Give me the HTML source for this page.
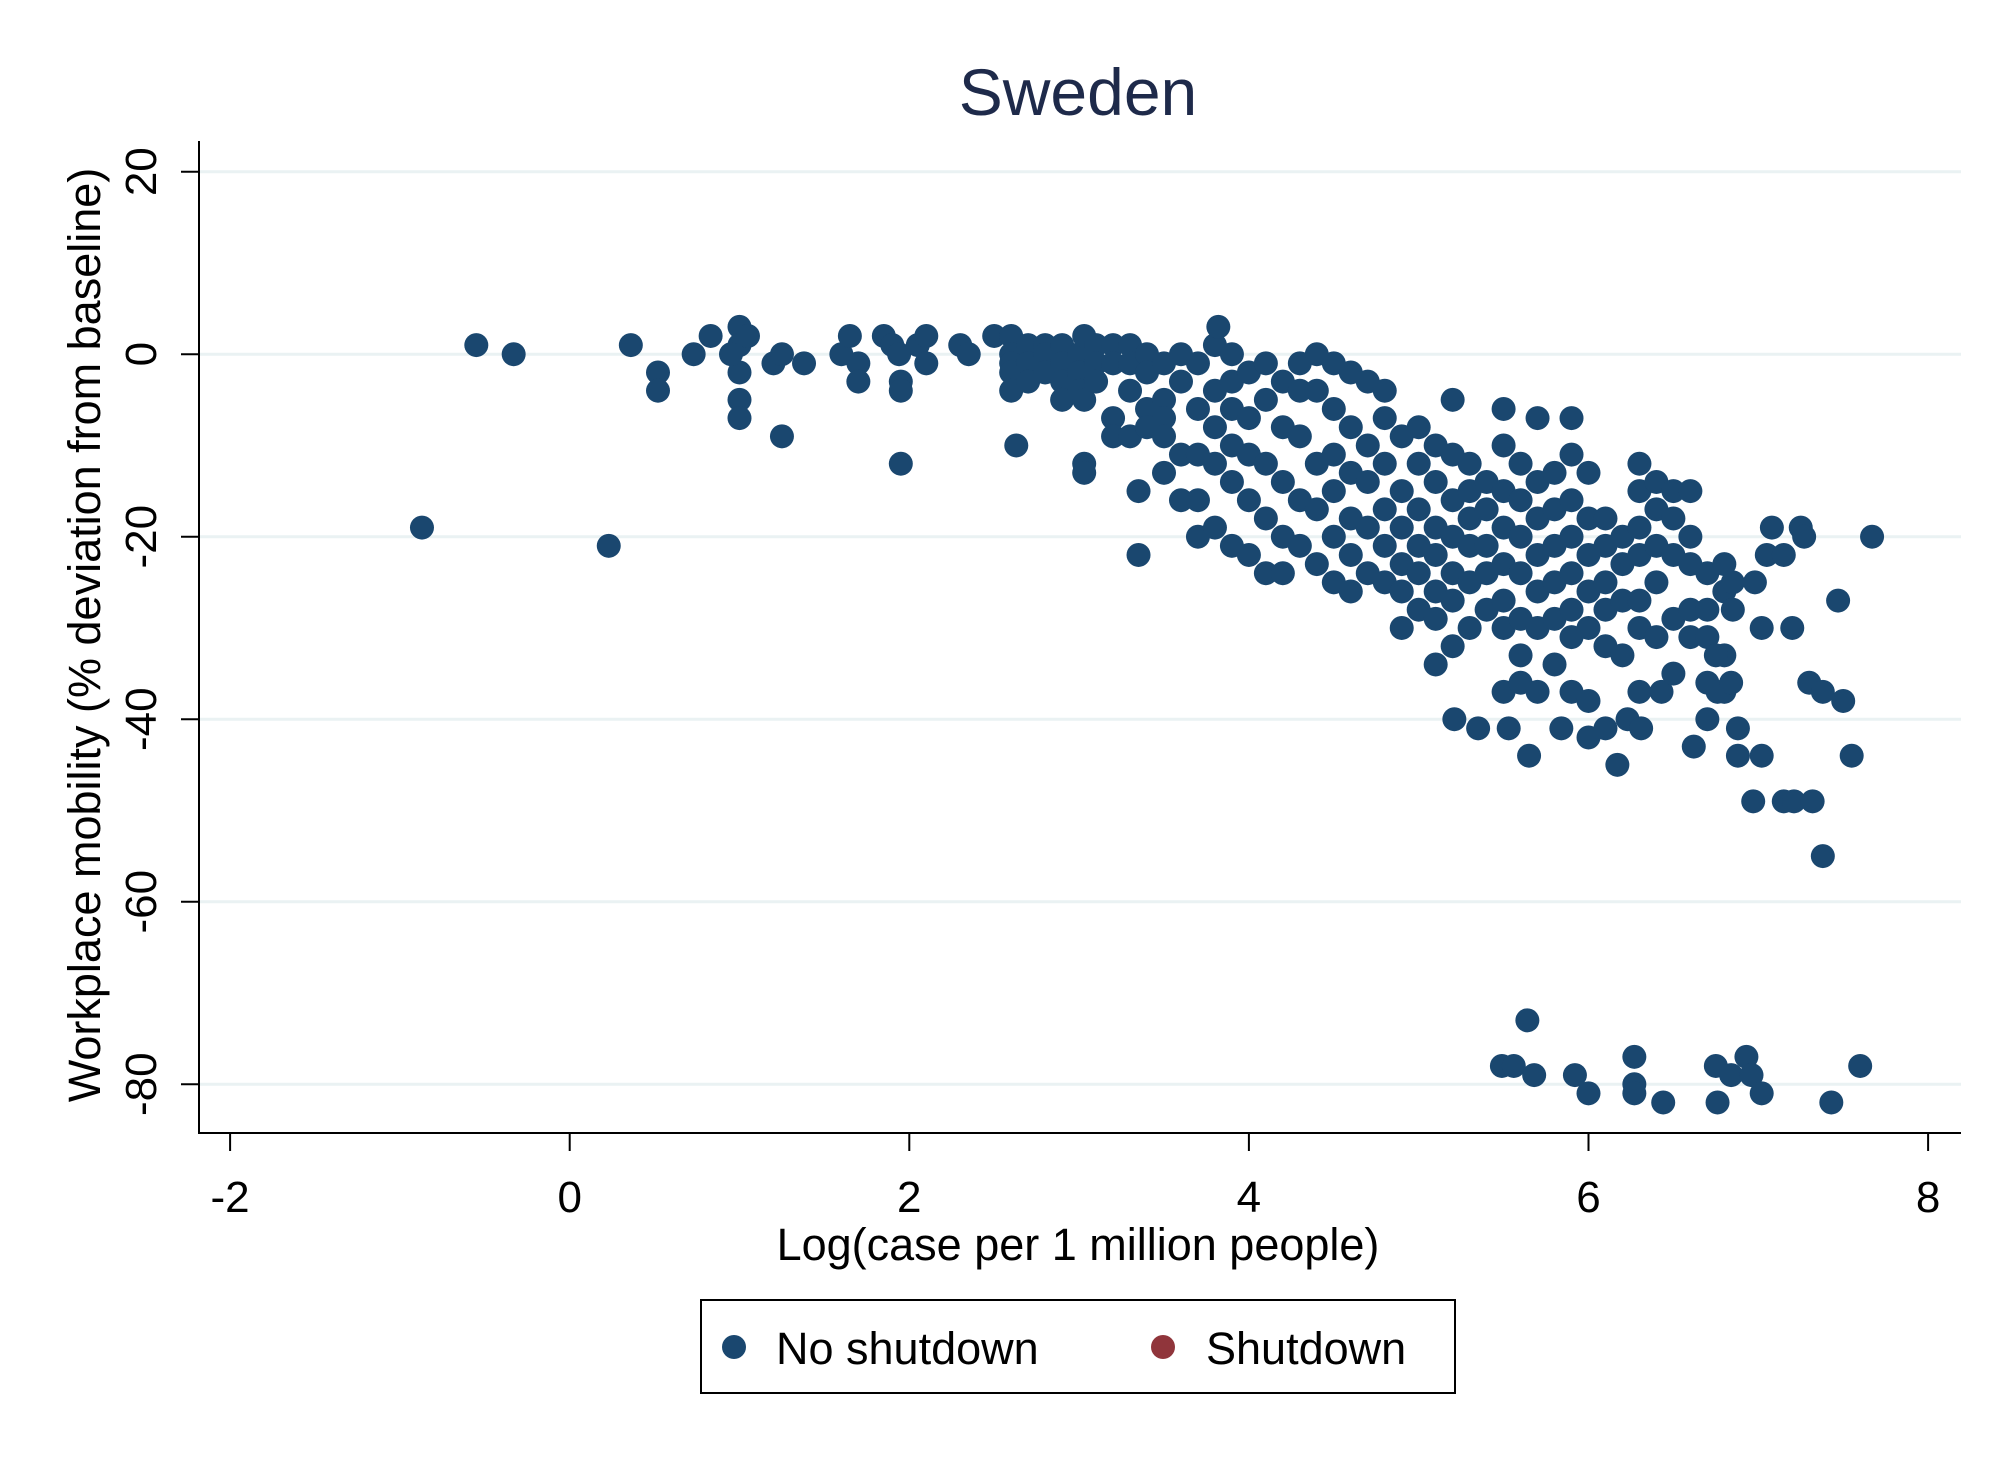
<!DOCTYPE html>
<html><head><meta charset="utf-8">
<style>
html,body{margin:0;padding:0;background:#fff;}
svg{display:block;font-family:"Liberation Sans",sans-serif;}
</style></head>
<body>
<svg id="chart" width="2012" height="1463" viewBox="0 0 2012 1463">
  <rect x="0" y="0" width="2012" height="1463" fill="#fff"/>
  <text x="1078" y="115" font-size="66" text-anchor="middle" fill="#1e2a4a">Sweden</text>
  <g id="grid"></g>
  <g id="axes"></g>
  <g id="points"></g>
  <text x="1078" y="1260" font-size="45" text-anchor="middle" fill="#000">Log(case per 1 million people)</text>
  <text transform="translate(100,635) rotate(-90)" font-size="45" text-anchor="middle" fill="#000">Workplace mobility (% deviation from baseline)</text>
  <g>
    <rect x="701" y="1300" width="754" height="93" fill="#fff" stroke="#000" stroke-width="2"/>
    <circle cx="734" cy="1347" r="12" fill="#1a476f"/>
    <text x="776" y="1364" font-size="45" fill="#000">No shutdown</text>
    <circle cx="1163" cy="1347" r="12" fill="#90353b"/>
    <text x="1206" y="1364" font-size="45" fill="#000">Shutdown</text>
  </g>
</svg>
<script>
const xTicks = [-2, 0, 2, 4, 6, 8];
const yTicks = [20, 0, -20, -40, -60, -80];
const xTickLabels = ["-2", "0", "2", "4", "6", "8"];
const yTickLabels = ["20", "0", "-20", "-40", "-60", "-80"];
const noShutdownX = [
-0.87,-0.55,-0.33,0.23,0.36,0.52,0.52,0.73,0.83,1.0,1.0,1.0,1.0,1.0,0.95,1.05,1.2,1.25,1.25,1.38,
1.6,1.65,1.7,1.7,1.85,1.9,1.95,1.95,1.95,1.94,2.05,2.1,2.1,2.3,2.35,2.5,2.63,
2.6,2.6,2.6,2.6,2.6,2.7,2.7,2.7,2.8,2.8,2.8,2.9,2.9,2.9,2.9,3.0,3.0,3.0,3.03,3.03,3.03,3.03,3.1,3.1,3.1,
3.2,3.2,3.2,3.2,3.3,3.3,3.3,3.3,3.35,3.35,3.4,3.4,3.4,3.4,3.5,3.5,3.5,3.5,3.5,3.6,3.6,3.6,3.6,
3.7,3.7,3.7,3.7,3.7,3.8,3.82,3.8,3.8,3.8,3.8,3.9,3.9,3.9,3.9,3.9,3.9,4.0,4.0,4.0,4.0,4.0,
4.1,4.1,4.1,4.1,4.1,4.2,4.2,4.2,4.2,4.2,4.3,4.3,4.3,4.3,4.3,4.4,4.4,4.4,4.4,4.4,
4.5,4.5,4.5,4.5,4.5,4.5,4.6,4.6,4.6,4.6,4.6,4.6,4.7,4.7,4.7,4.7,4.7,4.8,4.8,4.8,4.8,4.8,4.8,
4.9,4.9,4.9,4.9,4.9,4.9,5.0,5.0,5.0,5.0,5.0,5.0,5.1,5.1,5.1,5.1,5.1,5.1,5.1,
5.2,5.2,5.2,5.2,5.2,5.2,5.2,5.21,5.3,5.3,5.3,5.3,5.3,5.3,5.4,5.4,5.4,5.4,5.4,5.35,
5.5,5.5,5.5,5.5,5.5,5.5,5.5,5.5,5.6,5.6,5.6,5.6,5.6,5.6,5.6,5.53,5.7,5.7,5.7,5.7,5.7,5.7,5.7,5.65,
5.8,5.8,5.8,5.8,5.8,5.8,5.9,5.9,5.9,5.9,5.9,5.9,5.9,5.9,5.84,6.0,6.0,6.0,6.0,6.0,6.0,6.0,
6.1,6.1,6.1,6.1,6.1,6.1,6.2,6.2,6.2,6.2,6.17,6.3,6.3,6.3,6.3,6.3,6.3,6.3,6.23,6.31,
6.4,6.4,6.4,6.4,6.4,6.43,6.5,6.5,6.5,6.5,6.5,6.6,6.6,6.6,6.6,6.6,6.62,6.7,6.7,6.7,6.7,6.7,
6.8,6.8,6.8,6.8,6.76,6.84,6.85,6.85,6.88,6.88,7.02,6.75,
7.67,7.47,7.5,7.55,7.38,7.3,7.38,7.15,7.21,7.32,6.97,7.02,7.2,7.08,7.25,7.27,6.98,7.05,7.15,
5.64,5.49,5.56,5.68,5.92,6.0,6.27,6.27,6.27,6.44,6.75,6.76,6.84,6.93,6.96,7.02,7.43,7.6];
const noShutdownY = [
-19,1,0,-21,1,-2,-4,0,2,3,1,-2,-5,-7,0,2,-1,0,-9,-1,
0,2,-1,-3,2,1,-3,-4,-12,0,1,2,-1,1,0,2,-10,
2,0,-1,-2,-4,1,-1,-3,1,0,-2,1,-1,-3,-5,0,-2,-4,2,-5,-12,-13,1,-1,-3,
1,-1,-7,-9,1,-1,-4,-9,-15,-22,0,-2,-6,-8,-1,-5,-7,-9,-13,0,-3,-11,-16,
-1,-6,-11,-16,-20,1,3,-4,-8,-12,-19,0,-3,-6,-10,-14,-21,-2,-7,-11,-16,-22,
-1,-5,-12,-18,-24,-3,-8,-14,-20,-24,-1,-4,-9,-16,-21,0,-4,-12,-17,-23,
-1,-6,-11,-15,-20,-25,-2,-8,-13,-18,-22,-26,-3,-10,-14,-19,-24,-4,-7,-12,-17,-21,-25,
-9,-15,-19,-23,-26,-30,-8,-12,-17,-21,-24,-28,-10,-14,-19,-22,-26,-29,-34,
-5,-11,-16,-20,-24,-27,-32,-40,-12,-15,-18,-21,-25,-30,-14,-17,-21,-24,-28,-41,
-6,-10,-15,-19,-23,-27,-30,-37,-12,-16,-20,-24,-29,-33,-36,-41,-7,-14,-18,-22,-26,-30,-37,-44,
-13,-17,-21,-25,-29,-34,-7,-11,-16,-20,-24,-28,-31,-37,-41,-13,-18,-22,-26,-30,-38,-42,
-18,-21,-25,-28,-32,-41,-20,-23,-27,-33,-45,-12,-15,-19,-22,-27,-30,-37,-40,-41,
-14,-17,-21,-25,-31,-37,-15,-18,-22,-29,-35,-15,-20,-23,-28,-31,-43,-24,-28,-31,-36,-40,
-23,-26,-33,-37,-37,-36,-25,-28,-41,-44,-44,-33,
-20,-27,-38,-44,-55,-36,-37,-49,-49,-49,-49,-30,-30,-19,-19,-20,-25,-22,-22,
-73,-78,-78,-79,-79,-81,-77,-80,-81,-82,-78,-82,-79,-77,-79,-81,-82,-78];
const shutdownX = [];
const shutdownY = [];

const NS = "http://www.w3.org/2000/svg";
const L = 199, R = 1961, T = 141, B = 1133;
const X0 = 569.7, XU = 169.8, Y0 = 354.2, YU = 9.125;
function sx(v){ return X0 + v * XU; }
function sy(v){ return Y0 - v * YU; }

const grid = document.getElementById('grid');
const axes = document.getElementById('axes');
const pts = document.getElementById('points');

yTicks.forEach((t, i) => {
  const g = document.createElementNS(NS, 'line');
  g.setAttribute('x1', L); g.setAttribute('x2', R);
  g.setAttribute('y1', sy(t)); g.setAttribute('y2', sy(t));
  g.setAttribute('stroke', '#eaf2f3'); g.setAttribute('stroke-width', '3');
  
  
  grid.appendChild(g);
  const tk = document.createElementNS(NS, 'line');
  tk.setAttribute('x1', L - 18); tk.setAttribute('x2', L);
  tk.setAttribute('y1', sy(t)); tk.setAttribute('y2', sy(t));
  tk.setAttribute('stroke', '#000'); tk.setAttribute('stroke-width', '2');
  
  
  axes.appendChild(tk);
  const lb = document.createElementNS(NS, 'text');
  lb.setAttribute('transform', 'translate(156,' + sy(t) + ') rotate(-90)');
  lb.setAttribute('text-anchor', 'middle');
  lb.setAttribute('font-size', '44');
  lb.textContent = yTickLabels[i];
  
  
  axes.appendChild(lb);
});
xTicks.forEach((t, i) => {
  const tk = document.createElementNS(NS, 'line');
  tk.setAttribute('x1', sx(t)); tk.setAttribute('x2', sx(t));
  tk.setAttribute('y1', B); tk.setAttribute('y2', B + 18);
  tk.setAttribute('stroke', '#000'); tk.setAttribute('stroke-width', '2');
  
  
  axes.appendChild(tk);
  const lb = document.createElementNS(NS, 'text');
  lb.setAttribute('x', sx(t)); lb.setAttribute('y', 1212);
  lb.setAttribute('text-anchor', 'middle');
  lb.setAttribute('font-size', '44');
  lb.textContent = xTickLabels[i];
  
  
  axes.appendChild(lb);
});
const ax = document.createElementNS(NS, 'path');
ax.setAttribute('d', 'M' + L + ' ' + T + ' L' + L + ' ' + B + ' L' + R + ' ' + B);
ax.setAttribute('fill', 'none'); ax.setAttribute('stroke', '#000'); ax.setAttribute('stroke-width', '2');


axes.appendChild(ax);

noShutdownX.forEach((x, i) => {
  const c = document.createElementNS(NS, 'circle');
  c.setAttribute('cx', sx(x)); c.setAttribute('cy', sy(noShutdownY[i]));
  c.setAttribute('r', '12'); c.setAttribute('fill', '#1a476f');
  
  
  pts.appendChild(c);
});
shutdownX.forEach((x, i) => {
  const c = document.createElementNS(NS, 'circle');
  c.setAttribute('cx', sx(x)); c.setAttribute('cy', sy(shutdownY[i]));
  c.setAttribute('r', '12'); c.setAttribute('fill', '#90353b');
  
  
  pts.appendChild(c);
});
</script>
</body></html>
